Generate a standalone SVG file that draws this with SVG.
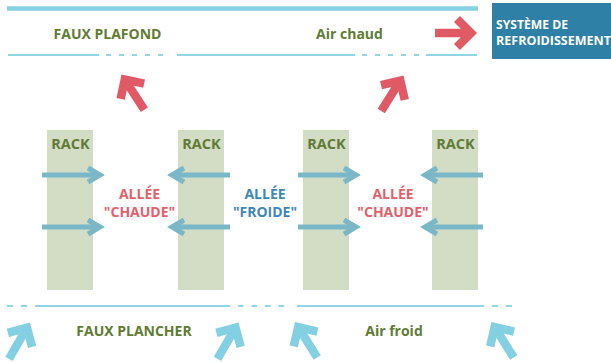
<svg xmlns="http://www.w3.org/2000/svg" xmlns:xlink="http://www.w3.org/1999/xlink" width="611" height="362" viewBox="0 0 611 362">
  <style>
    .lbl { font-family: "Open Sans", "Liberation Sans", sans-serif; font-weight: 700; }
    .green { fill: #5f7b34; font-size: 14px; }
    .rack { fill: #d3dcc5; }
    .racklbl { fill: #5f7b34; font-size: 14.5px; }
    .hot { fill: #e2616c; font-size: 14px; }
    .cold { fill: #3f87b4; font-size: 14px; }
    .sys { fill: #ffffff; font-size: 12.5px; }
    .plenum { stroke: #92d5e5; stroke-width: 2; fill: none; }
    .dash { stroke-dasharray: 5 8; }
  </style>
  <defs>
    <g id="bigArrow" fill="none" stroke-linejoin="miter" stroke-miterlimit="4">
      <line x1="-42" y1="0" x2="-8" y2="0" stroke-width="8.5"/>
      <polyline points="-20,-14 -6,0 -20,14" stroke-width="8.5"/>
    </g>
    <g id="flowArrow" fill="none" stroke="#7ab7c7" stroke-linejoin="miter">
      <line x1="-63" y1="0" x2="-6" y2="0" stroke-width="5"/>
      <polyline points="-17,-7 -5,0 -17,7" stroke-width="5"/>
    </g>
  </defs>

  <!-- ceiling -->
  <g id="ceiling">
    <line x1="7" y1="8.5" x2="478" y2="8.5" stroke="#86d2e2" stroke-width="4.5"/>
    <line class="plenum" x1="8" y1="55" x2="99" y2="55"/>
    <line class="plenum dash" x1="106" y1="55" x2="166" y2="55"/>
    <line class="plenum" x1="177" y1="55" x2="355" y2="55"/>
    <line class="plenum dash" x1="362" y1="55" x2="419" y2="55"/>
    <line class="plenum" x1="426" y1="55" x2="477" y2="55"/>
    <text class="lbl green" x="107.5" y="39" text-anchor="middle">FAUX PLAFOND</text>
    <text class="lbl green" x="349.5" y="39" text-anchor="middle">Air chaud</text>
  </g>

  <!-- cooling system -->
  <g id="systeme">
    <rect x="492" y="3" width="119" height="56" fill="#2e80a6"/>
    <text class="lbl sys" x="496" y="29" textLength="72" lengthAdjust="spacingAndGlyphs">SYSTÈME DE</text>
    <text class="lbl sys" x="496" y="44.5" textLength="115" lengthAdjust="spacingAndGlyphs">REFROIDISSEMENT</text>
  </g>

  <!-- racks -->
  <g id="rack1">
    <rect class="rack" x="47" y="130" width="46" height="160"/>
    <text class="lbl racklbl" x="70.5" y="149" text-anchor="middle">RACK</text>
  </g>
  <g id="rack2">
    <rect class="rack" x="178" y="130" width="46" height="160"/>
    <text class="lbl racklbl" x="201.5" y="149" text-anchor="middle">RACK</text>
  </g>
  <g id="rack3">
    <rect class="rack" x="303" y="130" width="46" height="160"/>
    <text class="lbl racklbl" x="326.5" y="149" text-anchor="middle">RACK</text>
  </g>
  <g id="rack4">
    <rect class="rack" x="432" y="130" width="46" height="160"/>
    <text class="lbl racklbl" x="455.5" y="149" text-anchor="middle">RACK</text>
  </g>

  <!-- aisles -->
  <g id="allee-chaude-1">
    <text class="lbl hot" x="139.5" y="199" text-anchor="middle">ALLÉE</text>
    <text class="lbl hot" x="139.5" y="217" text-anchor="middle">"CHAUDE"</text>
  </g>
  <g id="allee-froide">
    <text class="lbl cold" x="265" y="199" text-anchor="middle">ALLÉE</text>
    <text class="lbl cold" x="265" y="217" text-anchor="middle">"FROIDE"</text>
  </g>
  <g id="allee-chaude-2">
    <text class="lbl hot" x="393" y="199" text-anchor="middle">ALLÉE</text>
    <text class="lbl hot" x="393" y="217" text-anchor="middle">"CHAUDE"</text>
  </g>

  <!-- floor -->
  <g id="floor">
    <line class="plenum" x1="7" y1="306" x2="29" y2="306" stroke-dasharray="6 8"/>
    <line class="plenum" x1="35" y1="306" x2="230" y2="306"/>
    <line class="plenum" x1="238" y1="306" x2="285" y2="306" stroke-dasharray="5.5 8"/>
    <line class="plenum" x1="297" y1="306" x2="484" y2="306"/>
    <line class="plenum" x1="492" y1="306" x2="513" y2="306" stroke-dasharray="6 8"/>
    <text class="lbl green" x="134" y="336" text-anchor="middle">FAUX PLANCHER</text>
    <text class="lbl green" x="394" y="336" text-anchor="middle">Air froid</text>
  </g>

  <!-- connectors -->
  <g id="connectors">
    <g stroke="#e05a66">
      <use xlink:href="#bigArrow" transform="translate(477,33)"/>
      <use xlink:href="#bigArrow" transform="translate(121.5,74.5) rotate(-123)"/>
      <use xlink:href="#bigArrow" transform="translate(403.5,75.5) rotate(-58)"/>
    </g>
    <g stroke="#82d0e2">
      <use xlink:href="#bigArrow" transform="translate(30,322.5) rotate(-60)"/>
      <use xlink:href="#bigArrow" transform="translate(238.5,322.5) rotate(-60)"/>
      <use xlink:href="#bigArrow" transform="translate(295,322) rotate(-122)"/>
      <use xlink:href="#bigArrow" transform="translate(491.5,322) rotate(-122)"/>
    </g>
    <use xlink:href="#flowArrow" transform="translate(105,175)"/>
    <use xlink:href="#flowArrow" transform="translate(105,227)"/>
    <use xlink:href="#flowArrow" transform="translate(167,175) rotate(180)"/>
    <use xlink:href="#flowArrow" transform="translate(167,227) rotate(180)"/>
    <use xlink:href="#flowArrow" transform="translate(361,175)"/>
    <use xlink:href="#flowArrow" transform="translate(361,227)"/>
    <use xlink:href="#flowArrow" transform="translate(420,175) rotate(180)"/>
    <use xlink:href="#flowArrow" transform="translate(420,227) rotate(180)"/>
  </g>
</svg>
